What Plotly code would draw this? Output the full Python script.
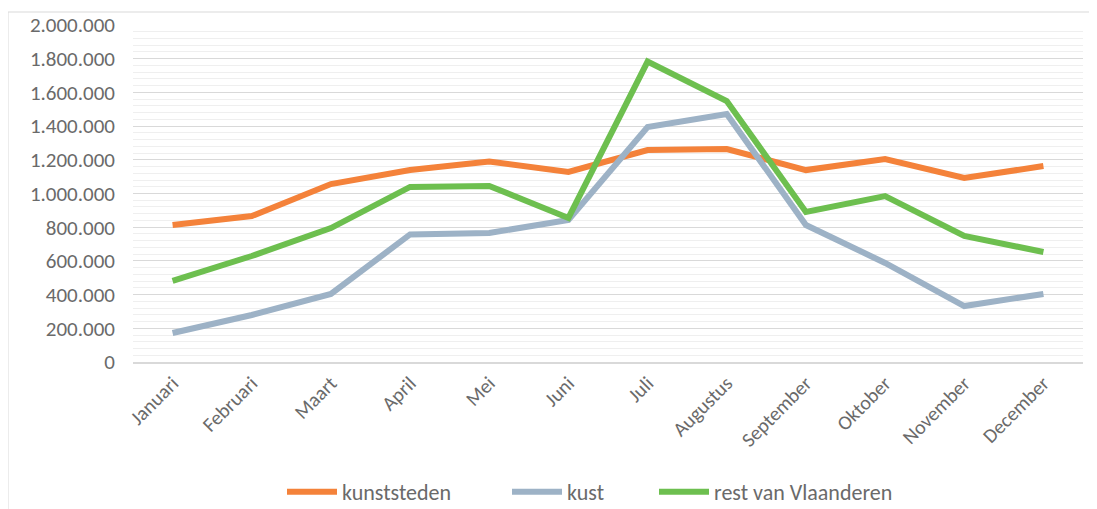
import plotly.graph_objects as go

months = ["Januari", "Februari", "Maart", "April", "Mei", "Juni", "Juli",
          "Augustus", "September", "Oktober", "November", "December"]
kunststeden = [813000, 866000, 1056000, 1139000, 1190000, 1128000, 1258000,
               1264000, 1139000, 1205000, 1092000, 1163000]
kust = [172000, 279000, 404000, 757000, 766000, 843000, 1395000,
        1472000, 813000, 588000, 332000, 404000]
rest = [481000, 629000, 795000, 1039000, 1045000, 855000, 1783000,
        1549000, 890000, 985000, 748000, 653000]

series = [("kunststeden", kunststeden, "#F4823A", "legend"),
          ("kust", kust, "#9DB2C6", "legend2"),
          ("rest van Vlaanderen", rest, "#6DBF4F", "legend3")]

fig = go.Figure()
for name, vals, col, lg in series:
    fig.add_trace(go.Scatter(x=months, y=vals, name=name, mode="lines",
                             line=dict(color=col, width=6), legend=lg))

# page body has an 8px margin; work in screen pixels and convert
OFF = 8
W, H = 1097 - OFF, 509 - OFF
SL, ST, SR, SB = 133, 25, 1083, 362          # plot area in screen pixels
L, T = SL - OFF, ST - OFF
R, B = W - (SR - OFF), H - (SB - OFF)
pw, ph = SR - SL, SB - ST

def px_x(p):
    return (p - SL) / pw

def px_y(p):
    return (SB - p) / ph

FONT = "Carlito, Lato, sans-serif"
GREY = "#6A6A6A"
FS = 21

def leg(xpix):
    return dict(orientation="h", x=px_x(xpix), xanchor="left",
                y=px_y(492), yanchor="middle", bgcolor="rgba(0,0,0,0)",
                font=dict(family=FONT, size=22, color=GREY),
                itemwidth=50)

fig.update_layout(
    width=W, height=H,
    margin=dict(l=L, r=R, t=T, b=B, autoexpand=False),
    paper_bgcolor="white", plot_bgcolor="white",
    separators=",.",
    font=dict(family=FONT, size=FS, color=GREY),
    showlegend=True,
    legend=leg(282),
    legend2=leg(507),
    legend3=leg(654),
    xaxis=dict(range=[-0.5, 11.5], showgrid=False, zeroline=False,
               showline=True, linecolor="#D9D9D9", linewidth=1.5,
               tickangle=-45, ticks="", automargin=False,
               tickfont=dict(family=FONT, size=FS - 1, color=GREY)),
    yaxis=dict(range=[0, 2000000], dtick=200000, tickformat=",d",
               showgrid=True, gridcolor="#D9D9D9", gridwidth=1.3,
               zeroline=False, showline=False, ticks="", automargin=False,
               ticklabelstandoff=17,
               tickfont=dict(family=FONT, size=FS, color=GREY),
               minor=dict(dtick=40000, showgrid=True, gridcolor="#EFEFEF",
                          gridwidth=1.3)),
    shapes=[dict(type="rect", xref="paper", yref="paper",
                 x0=px_x(8), x1=px_x(1090), y0=px_y(510), y1=px_y(12),
                 line=dict(color="#D9D9D9", width=1), layer="below")],
)

fig.write_html("out.html")
